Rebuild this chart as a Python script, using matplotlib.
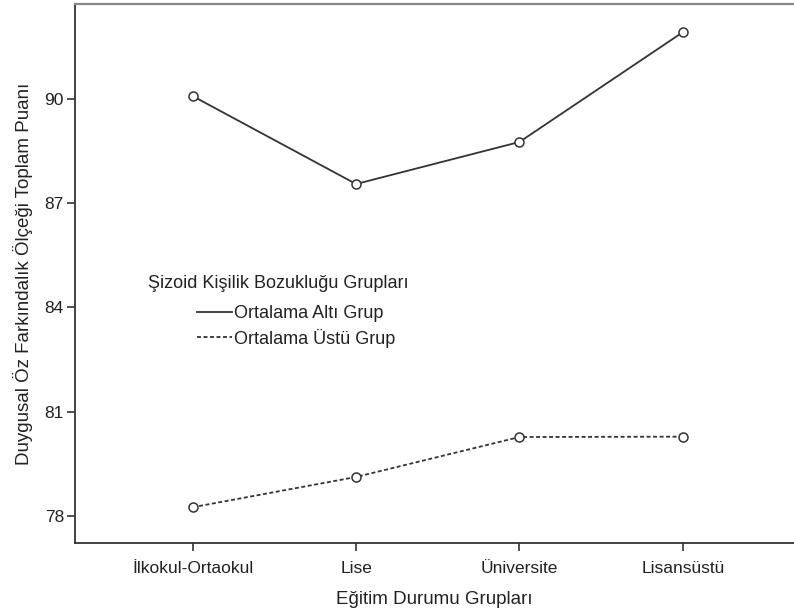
import matplotlib
matplotlib.use("Agg")
import matplotlib.pyplot as plt
from matplotlib.lines import Line2D

categories = ["İlkokul-Ortaokul", "Lise", "Üniversite", "Lisansüstü"]
alti = [90.08, 87.55, 88.76, 91.92]
ustu = [78.25, 79.12, 80.27, 80.28]
yticks = [78, 81, 84, 87, 90]
series_names = ["Ortalama Altı Grup", "Ortalama Üstü Grup"]
legend_title = "Şizoid Kişilik Bozukluğu Grupları"

plt.rcParams['font.family'] = ['Liberation Sans', 'DejaVu Sans']

fig = plt.figure(figsize=(7.94, 6.14), dpi=100)
ax = fig.add_axes([0.0945, 0.1156, 0.9055, 0.8779])
x = list(range(len(categories)))
col = '#333333'
dash = (0, (2.2, 1.4))
ax.plot(x, alti, color=col, lw=1.3, ls='-', marker='o', ms=6.5,
        mfc='white', mec=col, mew=1.1)
ax.plot(x, ustu, color=col, lw=1.3, ls=dash, marker='o', ms=6.5,
        mfc='white', mec=col, mew=1.1)

ax.set_xlim(-0.72, 3.68)
ax.set_ylim(77.22, 92.73)
ax.set_xticks(x)
ax.set_xticklabels(categories, fontsize=12.5, color='#222222')
ax.set_yticks(yticks)
ax.set_yticklabels([str(v) for v in yticks], fontsize=12.5, color='#222222')
ax.tick_params(length=6, width=1.2, color='#333333', pad=2)
ax.tick_params(axis='x', pad=7)
ax.spines['right'].set_visible(False)
ax.spines['top'].set_color('#888888')
ax.spines['top'].set_linewidth(1.6)
ax.spines['left'].set_color('#333333')
ax.spines['bottom'].set_color('#333333')
ax.spines['left'].set_linewidth(1.3)
ax.spines['bottom'].set_linewidth(1.3)

ax.set_xlabel("Eğitim Durumu Grupları", fontsize=13.5, color='#222222', labelpad=11)
ax.set_ylabel("Duygusal Öz Farkındalık Ölçeği Toplam Puanı", fontsize=13.5, color='#222222', labelpad=8)

handles = [Line2D([], [], color=col, lw=1.3, ls='-'),
           Line2D([], [], color=col, lw=1.3, ls=dash)]
leg = ax.legend(handles, series_names, loc='upper left',
                bbox_to_anchor=(0.17, 0.4415), frameon=False, fontsize=13,
                handlelength=1.9, handletextpad=0.15,
                labelspacing=0.36, borderpad=0, borderaxespad=0)
for t in leg.get_texts():
    t.set_color('#222222')
ax.text(0.1015, 0.482, legend_title, transform=ax.transAxes, fontsize=13,
        color='#222222', ha='left', va='center')

fig.savefig("out.png", dpi=100)
